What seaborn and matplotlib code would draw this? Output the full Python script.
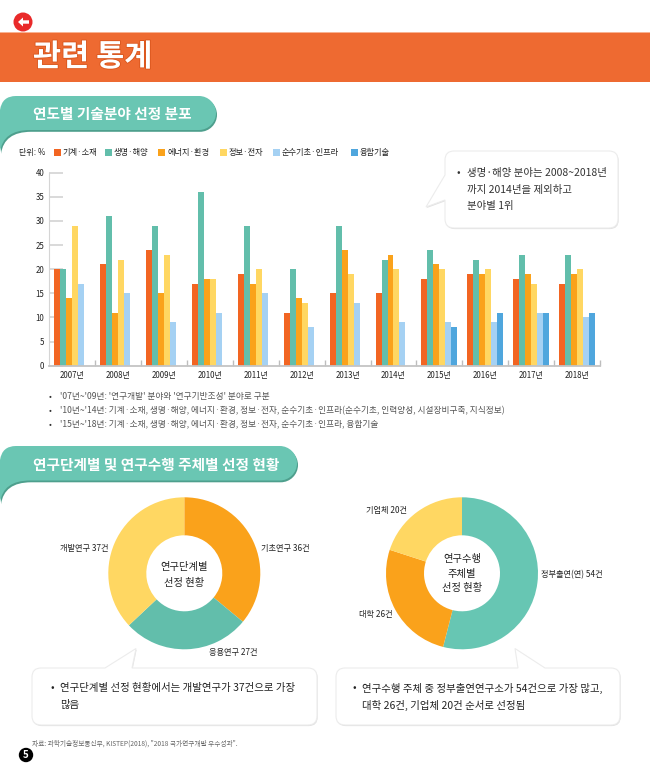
import numpy as np
import pandas as pd
import seaborn as sns
import matplotlib
matplotlib.use("Agg")
import matplotlib.pyplot as plt
import matplotlib.patheffects as pe
from matplotlib.patches import Rectangle, Circle, PathPatch, Polygon
from matplotlib.path import Path

# DATA
years = ['2007년', '2008년', '2009년', '2010년', '2011년', '2012년',
         '2013년', '2014년', '2015년', '2016년', '2017년', '2018년']
fields = ['기계·소재', '생명·해양', '에너지·환경', '정보·전자', '순수기초·인프라', '융합기술']
mech = [20, 21, 24, 17, 19, 11, 15, 15, 18, 19, 18, 17]
bio = [20, 31, 29, 36, 29, 20, 29, 22, 24, 22, 23, 23]
energy = [14, 11, 15, 18, 17, 14, 24, 23, 21, 19, 19, 19]
info = [29, 22, 23, 18, 20, 13, 19, 20, 20, 20, 17, 20]
basic = [17, 15, 9, 11, 15, 8, 13, 9, 9, 9, 11, 10]
fusion = [np.nan] * 8 + [8, 11, 11, 11]
y_ticks = [0, 5, 10, 15, 20, 25, 30, 35, 40]

stage_names = ['기초연구', '응용연구', '개발연구']
stage_counts = [36, 27, 37]
actor_names = ['정부출연(연)', '대학', '기업체']
actor_counts = [54, 26, 20]

notes = ["'07년~'09년: '연구개발' 분야와 '연구기반조성' 분야로 구분",
         "'10년~'14년: 기계·소재, 생명·해양, 에너지·환경, 정보·전자, 순수기초·인프라(순수기초, 인력양성, 시설장비구축, 지식정보)",
         "'15년~'18년: 기계·소재, 생명·해양, 에너지·환경, 정보·전자, 순수기초·인프라, 융합기술"]

# COLORS
RED = '#F26522'
TEAL = '#62BEAB'
ORANGE = '#FAA21B'
YELLOW = '#FFD762'
SKY = '#A5D1F3'
BLUE = '#4FA6DD'
field_colors = [RED, TEAL, ORANGE, YELLOW, SKY, BLUE]

sns.set_style('white')
plt.rcParams['font.family'] = ['Noto Sans CJK KR', 'DejaVu Sans']

W, H = 650, 780
fig = plt.figure(figsize=(W / 100, H / 100), dpi=100, facecolor='white')


def px_axes(x0, y0, x1, y1):
    # axes from pixel box, y measured from the top
    return fig.add_axes([x0 / W, 1 - y1 / H, (x1 - x0) / W, (y1 - y0) / H])


# BAR CHART
df = pd.DataFrame({'year': years, fields[0]: mech, fields[1]: bio, fields[2]: energy,
                   fields[3]: info, fields[4]: basic, fields[5]: fusion})
long_df = df.melt(id_vars='year', var_name='field', value_name='share')

ax = px_axes(49.3, 172.7, 600, 365.7)
sns.barplot(data=long_df, x='year', y='share', hue='field', hue_order=fields,
            palette=field_colors, saturation=1, width=0.78, gap=0, linewidth=0,
            legend=False, ax=ax)
ax.set_xlim(-0.5, 11.5)
ax.set_ylim(0, 40)
ax.set_xlabel('')
ax.set_ylabel('')
ax.set_yticks(y_ticks)
ax.set_xticks(np.arange(0.5, 12, 1), minor=True)
ax.tick_params(axis='y', direction='in', length=10, width=1.1, color='#CFCFCF',
               labelsize=5.7, pad=3.5, labelcolor='#222222', left=True)
ax.tick_params(axis='x', which='major', length=0, labelsize=5.7, pad=4, labelcolor='#222222')
ax.tick_params(axis='x', which='minor', direction='in', length=4, width=1, color='#BDBDBD', bottom=True)
sns.despine(ax=ax, top=True, right=True)
ax.spines['left'].set_color('#D5D5D5')
ax.spines['left'].set_linewidth(0.8)
ax.spines['bottom'].set_color('#C4C4C4')
ax.spines['bottom'].set_linewidth(1.3)
ax.set_axisbelow(True)

# DONUTS
donut_a = px_axes(108.3, 497.3, 260.3, 649.3)
donut_a.pie(stage_counts, colors=[ORANGE, TEAL, YELLOW], startangle=90, counterclock=False,
            radius=1, wedgeprops={'width': 0.5, 'linewidth': 0})
donut_a.set_xlim(-1, 1)
donut_a.set_ylim(-1, 1)

donut_b = px_axes(386, 497.3, 538, 649.3)
donut_b.pie(actor_counts, colors=['#67C6B3', ORANGE, YELLOW], startangle=90, counterclock=False,
            radius=1, wedgeprops={'width': 0.5, 'linewidth': 0})
donut_b.set_xlim(-1, 1)
donut_b.set_ylim(-1, 1)

# PAGE LAYER, pixel coordinates
page = fig.add_axes([0, 0, 1, 1])
page.set_xlim(0, W)
page.set_ylim(H, 0)
page.axis('off')

# header
page.add_patch(Rectangle((0, 32), W, 1.2, color='#F8B292', lw=0))
page.add_patch(Rectangle((0, 33), W, 49, color='#EE6A31', lw=0))
page.text(33, 57, '관련 통계', color='white', fontsize=22, fontweight='bold', va='center',
          path_effects=[pe.withStroke(linewidth=1.2, foreground='#D9551C')])
page.add_patch(Circle((23, 22), 9.5, color='#E92A2A', lw=0))
page.add_patch(Polygon([(18, 22), (23, 17.5), (23, 20.3), (29, 20.3),
                        (29, 23.7), (23, 23.7), (23, 26.5)], fc='white', lw=0))


def ribbon(y0, y1, xr):
    r = (y1 - y0) / 2
    k = 0.55 * r
    verts = [(0, y0 + 14), (2, y0), (16, y0), (xr - r, y0),
             (xr - r + k, y0), (xr, y0 + r - k), (xr, y0 + r),
             (xr, y0 + r + k), (xr - r + k, y1), (xr - r, y1),
             (30, y1), (3, y1), (0, y1 + 22), (0, y0 + 14)]
    codes = [Path.MOVETO, Path.CURVE3, Path.CURVE3, Path.LINETO,
             Path.CURVE4, Path.CURVE4, Path.CURVE4,
             Path.CURVE4, Path.CURVE4, Path.CURVE4,
             Path.LINETO, Path.CURVE3, Path.CURVE3, Path.CLOSEPOLY]
    shade = [(x + 1, y + 1.8) for x, y in verts]
    page.add_patch(PathPatch(Path(shade, codes), fc='#4E9F8D', lw=0))
    page.add_patch(PathPatch(Path(verts, codes), fc='#6AC6B3', lw=0))


ribbon(96, 130, 216)
page.text(33, 113.5, '연도별 기술분야 선정 분포', color='white', fontsize=10.55, fontweight='bold', va='center')
ribbon(446, 480.5, 297)
page.text(33, 464.5, '연구단계별 및 연구수행 주체별 선정 현황', color='white', fontsize=10.55, fontweight='bold', va='center')

# legend row
legend_x = [53.5, 105, 158, 220, 273, 351]
page.text(19, 152.5, '단위: %', fontsize=5.8, va='center', color='#222222')
for lx, name, col in zip(legend_x, fields, field_colors):
    page.add_patch(Rectangle((lx, 149), 7, 7, color=col, lw=0))
    page.text(lx + 9, 152.5, name, fontsize=5.9, va='center', color='#222222')


def callout(x0, y0, x1, y1, side, a, tip, b, r=9):
    # rounded box with a pointer on the top or left edge
    v = [(x0 + r, y0)]
    c = [Path.MOVETO]
    if side == 'top':
        v += [(a, y0), tip, (b, y0)]
        c += [Path.LINETO] * 3
    v += [(x1 - r, y0), (x1, y0), (x1, y0 + r), (x1, y1 - r), (x1, y1), (x1 - r, y1),
          (x0 + r, y1), (x0, y1), (x0, y1 - r)]
    c += [Path.LINETO, Path.CURVE3, Path.CURVE3] * 3
    if side == 'left':
        v += [(x0, b), tip, (x0, a)]
        c += [Path.LINETO] * 3
    v += [(x0, y0 + r), (x0, y0), (x0 + r, y0), (x0 + r, y0)]
    c += [Path.LINETO, Path.CURVE3, Path.CURVE3, Path.CLOSEPOLY]
    page.add_patch(PathPatch(Path(v, c), fc='white', ec='#ECECEC', lw=0.8,
                             path_effects=[pe.SimplePatchShadow(offset=(0.5, -0.8), shadow_rgbFace='#AAAAAA', alpha=0.35),
                                           pe.Normal()]))


callout(445, 151, 618, 228, 'left', 175, (426, 207), 200)
callout(32, 668, 317, 725, 'top', 105, (136, 648.5), 132)
callout(336, 668, 620, 725, 'top', 518, (515, 648.5), 545)

box_font = 7.5
page.text(458, 173, '•', fontsize=box_font, va='center', ha='center', color='#333333')
for yy, line in zip([173, 190, 206], ['생명·해양 분야는 2008~2018년', '까지 2014년을 제외하고', '분야별 1위']):
    page.text(467, yy, line, fontsize=box_font, va='center', color='#333333')

page.text(52, 688, '•', fontsize=box_font, va='center', ha='center', color='#222222')
for yy, line in zip([688, 705], ['연구단계별 선정 현황에서는 개발연구가 37건으로 가장', '많음']):
    page.text(60, yy, line, fontsize=box_font, va='center', color='#222222')

page.text(354, 688, '•', fontsize=box_font, va='center', ha='center', color='#222222')
for yy, line in zip([688, 705], ['연구수행 주체 중 정부출연연구소가 54건으로 가장 많고,', '대학 26건, 기업체 20건 순서로 선정됨']):
    page.text(362, yy, line, fontsize=box_font, va='center', color='#222222')

# notes under the bars
for yy, line in zip([397, 410.5, 424], notes):
    page.text(50, yy, '•', fontsize=6, va='center', ha='center', color='#333333')
    page.text(60, yy, line, fontsize=6.22, va='center', color='#555555')

# donut labels and centres
stage_pos = [(285, 549), (233, 652), (84, 549)]
for (lx, ly), name, n in zip(stage_pos, stage_names, stage_counts):
    page.text(lx, ly, f'{name} {n}건', fontsize=5.9, ha='center', va='center', color='#222222')
actor_pos = [(572, 575), (376, 615), (387, 511)]
for (lx, ly), name, n in zip(actor_pos, actor_names, actor_counts):
    page.text(lx, ly, f'{name} {n}건', fontsize=5.9, ha='center', va='center', color='#222222')

for yy, line in zip([567, 583], ['연구단계별', '선정 현황']):
    page.text(184.3, yy, line, fontsize=7.4, ha='center', va='center', color='#222222')
for yy, line in zip([559, 573.5, 588], ['연구수행', '주체별', '선정 현황']):
    page.text(462, yy, line, fontsize=7.4, ha='center', va='center', color='#222222')

# footer
page.text(32, 744, '자료: 과학기술정보통신부, KISTEP(2018), "2018 국가연구개발 우수성과".', fontsize=4.8,
          va='center', color='#666666')
page.add_patch(Circle((26, 755), 7.2, color='black', lw=0))
page.text(26, 755, '5', color='white', fontsize=7, fontweight='bold', ha='center', va='center')

fig.savefig('out.png', dpi=100)
